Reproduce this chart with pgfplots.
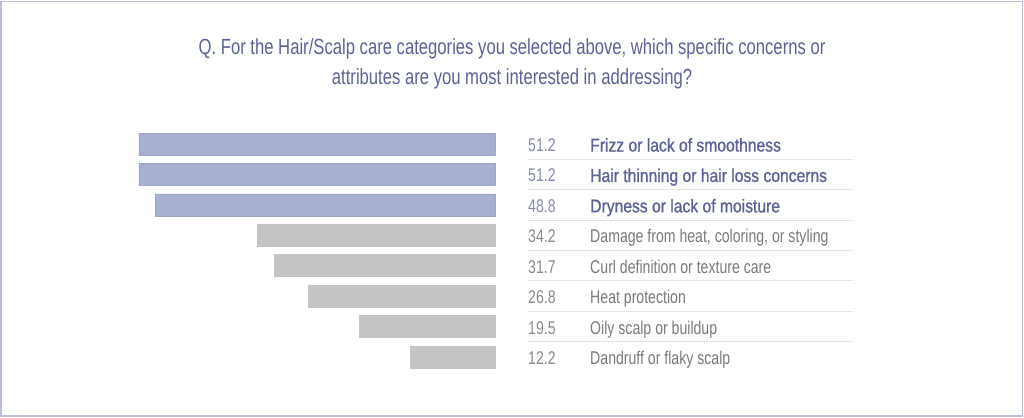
\documentclass[border=0pt]{standalone}
\usepackage{pgfplots}
\pgfplotsset{compat=1.18}
\usepackage{pgfplotstable}
\usepackage{fontspec}
\setmainfont{Liberation Sans}[FakeStretch=0.765]
\newfontfamily\medfont{Liberation Sans}[FakeStretch=0.85,FakeBold=1.0]
\newfontfamily\titlefont{Liberation Sans}[FakeStretch=0.76]
\definecolor{titleblue}{HTML}{5C6297}
\definecolor{valblue}{HTML}{868BB0}
\definecolor{barblue}{HTML}{A7B0D0}
\definecolor{barblueedge}{HTML}{9CA6CB}
\definecolor{bargray}{HTML}{C4C4C4}
\definecolor{txtgray}{HTML}{7A7A7A}
\definecolor{valgray}{HTML}{8A8A8A}
\definecolor{sepgray}{HTML}{E4E4E4}
\definecolor{framecol}{HTML}{B9BEDB}

\pgfplotstableread[col sep=semicolon]{
row;value;label
1;51.2;Frizz or lack of smoothness
2;51.2;Hair thinning or hair loss concerns
3;48.8;Dryness or lack of moisture
}\topdata
\pgfplotstableread[col sep=semicolon]{
row;value;label
4;34.2;Damage from heat, coloring, or styling
5;31.7;Curl definition or texture care
6;26.8;Heat protection
7;19.5;Oily scalp or buildup
8;12.2;Dandruff or flaky scalp
}\restdata

\begin{document}
\begin{tikzpicture}
\begin{axis}[
  scale only axis, width=1024bp, height=418bp,
  hide axis,
  x dir=reverse, y dir=reverse,
  xmin=-76.08, xmax=71.19,
  ymin=-3.732, ymax=10.004,
  clip=false,
]
\path (rel axis cs:0,0) rectangle (rel axis cs:1,1);
\draw[framecol, line width=1.5bp] (axis cs:71.05,-3.683) rectangle (axis cs:-75.87,9.939);
\node[titleblue, align=center, font=\titlefont\fontsize{22}{30}\selectfont] at (axis cs:-2.45,-1.63)
  {Q. For the Hair/Scalp care categories you selected above, which specific concerns or\\attributes are you most interested in addressing?};
% separators
\foreach \yy in {1.5,2.5,3.5,4.5,5.5,6.5,7.5}{
  \edef\tmp{\noexpand\draw[sepgray, line width=1bp] (axis cs:-4.75,\yy) -- (axis cs:-51.49,\yy);}\tmp
}
\addplot[xbar, bar width=22bp, bar shift=0pt, fill=barblue, draw=barblueedge, line width=0.6bp]
  table[x=value, y=row] {\topdata};
\addplot[xbar, bar width=22bp, bar shift=0pt, fill=bargray, draw=bargray, line width=0.6bp]
  table[x=value, y=row] {\restdata};
% values
\addplot[draw=none, mark=none, point meta=explicit symbolic, nodes near coords,
  every node near coord/.style={anchor=base west, inner sep=0pt, yshift=-7.5bp, text=valblue, font=\fontsize{18.5}{20}\selectfont}]
  table[x expr=-4.75, y=row, meta=value] {\topdata};
\addplot[draw=none, mark=none, point meta=explicit symbolic, nodes near coords,
  every node near coord/.style={anchor=base west, inner sep=0pt, yshift=-7.5bp, text=valgray, font=\fontsize{18.5}{20}\selectfont}]
  table[x expr=-4.75, y=row, meta=value] {\restdata};
% labels
\addplot[draw=none, mark=none, point meta=explicit symbolic, nodes near coords,
  every node near coord/.style={anchor=base west, inner sep=0pt, yshift=-7.5bp, text=titleblue, font=\medfont\fontsize{18.5}{20}\selectfont}]
  table[x expr=-13.67, y=row, meta=label] {\topdata};
\addplot[draw=none, mark=none, point meta=explicit symbolic, nodes near coords,
  every node near coord/.style={anchor=base west, inner sep=0pt, yshift=-7.5bp, text=txtgray, font=\fontsize{18.5}{20}\selectfont}]
  table[x expr=-13.67, y=row, meta=label] {\restdata};
\end{axis}
\end{tikzpicture}
\end{document}
